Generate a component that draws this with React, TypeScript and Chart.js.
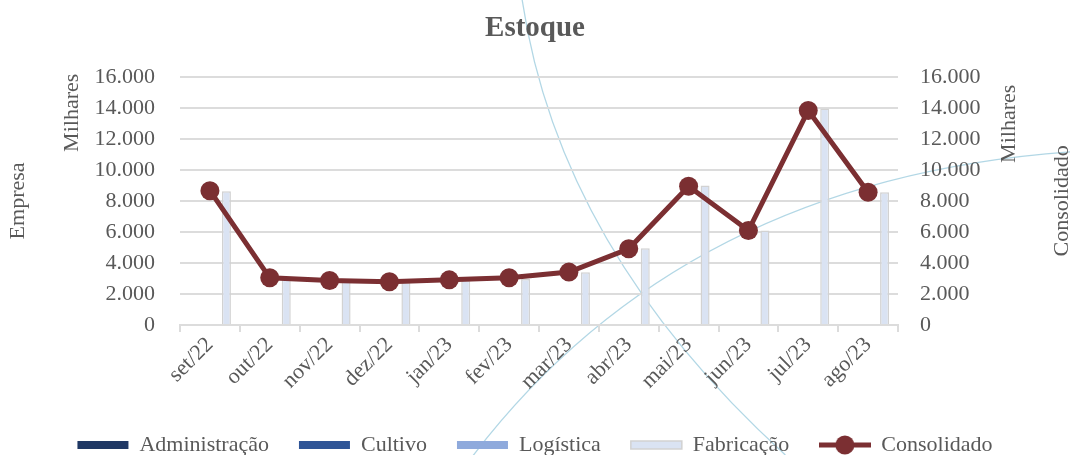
import React, { useEffect, useRef } from 'react';
import { Chart, registerables } from 'chart.js';

Chart.register(...registerables);

const categories = ['set/22', 'out/22', 'nov/22', 'dez/22', 'jan/23', 'fev/23', 'mar/23', 'abr/23', 'mai/23', 'jun/23', 'jul/23', 'ago/23'];
const administracao = [0, 0, 0, 0, 0, 0, 0, 0, 0, 0, 0, 0];
const cultivo = [0, 0, 0, 0, 0, 0, 0, 0, 0, 0, 0, 0];
const logistica = [0, 0, 0, 0, 0, 0, 0, 0, 0, 0, 0, 0];
const fabricacao = [8620, 3000, 2840, 2750, 2880, 2960, 3400, 4950, 9000, 6090, 13950, 8550];
const consolidado = [8660, 3040, 2870, 2790, 2910, 3040, 3410, 4910, 8940, 6090, 13830, 8560];

const AXIS_MIN = 0;
const AXIS_MAX = 16000;
const AXIS_STEP = 2000;

const FONT = '"Liberation Serif", "Times New Roman", serif';
const TEXT = '#595959';
const GRID = '#dcdcdc';
const LINE = '#7b2f32';

const fmt = (v: number) => {
  const s = Math.round(v).toString();
  return s.replace(/\B(?=(\d{3})+(?!\d))/g, '.');
};

const decorPlugin = {
  id: 'decor',
  beforeDraw(chart: any) {
    const { ctx, width: w, height: h } = chart;
    ctx.save();
    ctx.strokeStyle = 'rgba(165,208,224,0.85)';
    ctx.lineWidth = 1.3;
    ctx.beginPath();
    ctx.moveTo(w * 0.488, 0);
    ctx.quadraticCurveTo(w * 0.523, h * 0.549, w * 0.734, h);
    ctx.stroke();
    ctx.beginPath();
    ctx.moveTo(w * 0.439, h * 1.011);
    ctx.quadraticCurveTo(w * 0.636, h * 0.396, w, h * 0.334);
    ctx.stroke();
    ctx.restore();
  },
};

const axisTitlePlugin = {
  id: 'axisTitles',
  afterDraw(chart: any) {
    const { ctx, chartArea } = chart;
    ctx.save();
    ctx.fillStyle = TEXT;
    ctx.font = `22px ${FONT}`;
    ctx.textAlign = 'center';
    ctx.textBaseline = 'middle';
    const drawV = (text: string, x: number, y: number) => {
      ctx.save();
      ctx.translate(x, y);
      ctx.rotate(-Math.PI / 2);
      ctx.fillText(text, 0, 0);
      ctx.restore();
    };
    const midY = (chartArea.top + chartArea.bottom) / 2;
    drawV('Empresa', chartArea.left - 162, midY);
    drawV('Milhares', chartArea.left - 108, chartArea.top + 36);
    drawV('Milhares', chartArea.right + 111, chartArea.top + 47);
    drawV('Consolidado', chartArea.right + 164, midY);
    ctx.restore();
  },
};

function makeLineLegendIcon(): HTMLCanvasElement {
  const c = document.createElement('canvas');
  c.width = 52;
  c.height = 20;
  const g = c.getContext('2d')!;
  g.strokeStyle = LINE;
  g.fillStyle = LINE;
  g.lineWidth = 5;
  g.beginPath();
  g.moveTo(0, 10);
  g.lineTo(52, 10);
  g.stroke();
  g.beginPath();
  g.arc(26, 10, 9.5, 0, Math.PI * 2);
  g.fill();
  return c;
}

export default function App() {
  const ref = useRef<HTMLCanvasElement | null>(null);

  useEffect(() => {
    document.body.style.margin = '0';
    if (!ref.current) return;
    const lineIcon = makeLineLegendIcon();
    const chart = new Chart(ref.current, {
      type: 'bar',
      data: {
        labels: categories,
        datasets: [
          { type: 'bar', label: 'Administração', data: administracao, backgroundColor: '#1f3864', borderColor: '#1f3864', borderWidth: 0, yAxisID: 'y', order: 1 },
          { type: 'bar', label: 'Cultivo', data: cultivo, backgroundColor: '#2f5597', borderColor: '#2f5597', borderWidth: 0, yAxisID: 'y', order: 1 },
          { type: 'bar', label: 'Logística', data: logistica, backgroundColor: '#8faadc', borderColor: '#8faadc', borderWidth: 0, yAxisID: 'y', order: 1 },
          { type: 'bar', label: 'Fabricação', data: fabricacao, backgroundColor: '#dae3f3', borderColor: '#d2d2d2', borderWidth: 1.5, yAxisID: 'y', order: 1 },
          {
            type: 'line', label: 'Consolidado', data: consolidado, yAxisID: 'y1', order: 0,
            borderColor: LINE, backgroundColor: LINE, borderWidth: 5,
            pointRadius: 9.5, pointBackgroundColor: LINE, pointBorderColor: LINE, pointBorderWidth: 0,
            tension: 0,
          },
        ] as any,
      },
      options: {
        animation: false,
        responsive: false,
        layout: { padding: { left: 0, right: 0, top: 0, bottom: -11 } },
        datasets: {
          bar: { categoryPercentage: 0.735, barPercentage: 0.82 },
        } as any,
        plugins: {
          title: {
            display: true,
            text: 'Estoque',
            color: TEXT,
            font: { family: FONT, size: 29, weight: 'bold', lineHeight: 1.2 },
            padding: { top: 11, bottom: 31 },
          },
          legend: {
            position: 'bottom',
            labels: {
              color: TEXT,
              font: { family: FONT, size: 22 },
              usePointStyle: true,
              pointStyleWidth: 51,
              boxHeight: 8,
              padding: 30,
              sort: (a: any, b: any) => a.datasetIndex - b.datasetIndex,
              generateLabels: (ch: any) => {
                const items = (Chart.defaults.plugins.legend.labels as any).generateLabels(ch);
                return items.map((it: any) => {
                  const ds = ch.data.datasets[it.datasetIndex];
                  if (ds.type === 'line') {
                    return { ...it, pointStyle: lineIcon, lineWidth: 0 };
                  }
                  return { ...it, pointStyle: 'rect', fillStyle: ds.backgroundColor, strokeStyle: ds.borderColor, lineWidth: ds.borderWidth };
                });
              },
            },
          },
          tooltip: { enabled: false },
        },
        scales: {
          x: {
            afterFit: (s: any) => { s.height = 79; },
            grid: { drawOnChartArea: false, color: GRID, lineWidth: 2, tickLength: 7 },
            border: { color: GRID, width: 2 },
            ticks: { color: TEXT, font: { family: FONT, size: 22 }, maxRotation: 45, minRotation: 45, padding: 0 },
          },
          y: {
            position: 'left',
            min: AXIS_MIN, max: AXIS_MAX,
            afterFit: (s: any) => { s.width = 180; },
            grid: { color: GRID, lineWidth: 2, drawTicks: false },
            border: { display: false },
            ticks: { stepSize: AXIS_STEP, color: TEXT, font: { family: FONT, size: 22 }, padding: 25, callback: (v: any) => fmt(Number(v)) },
          },
          y1: {
            position: 'right',
            min: AXIS_MIN, max: AXIS_MAX,
            afterFit: (s: any) => { s.width = 172; },
            grid: { drawOnChartArea: false, drawTicks: false },
            border: { display: false },
            ticks: { stepSize: AXIS_STEP, color: TEXT, font: { family: FONT, size: 22 }, padding: 22, callback: (v: any) => fmt(Number(v)) },
          },
        },
      } as any,
      plugins: [decorPlugin, axisTitlePlugin],
    });
    return () => chart.destroy();
  }, []);

  return (
    <div style={{ width: 1070, height: 455, background: '#ffffff' }}>
      <canvas ref={ref} width={1070} height={455} />
    </div>
  );
}
